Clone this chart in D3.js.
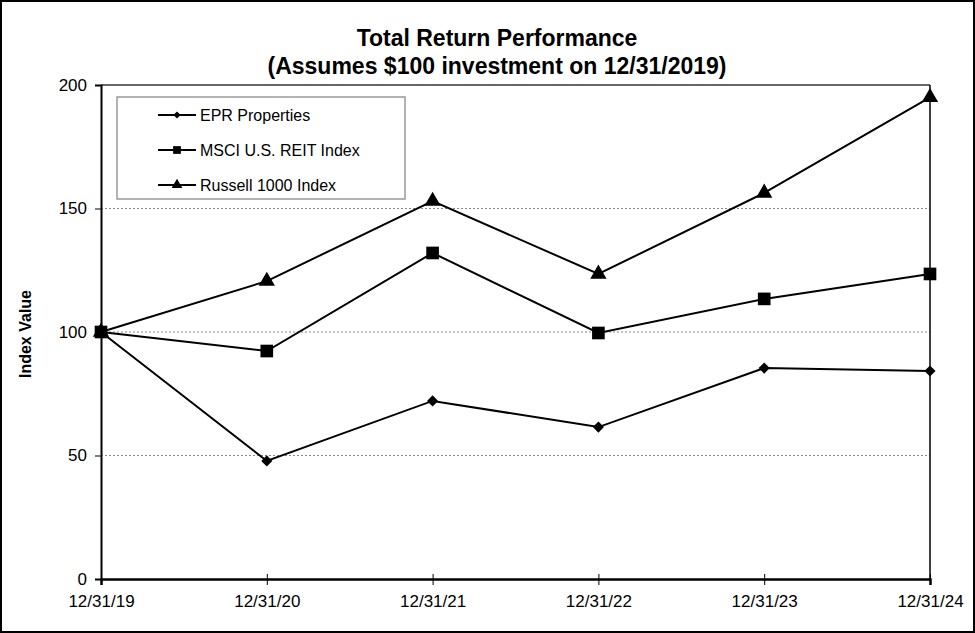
<!DOCTYPE html>
<html><head><meta charset="utf-8">
<script src="https://cdn.jsdelivr.net/npm/d3@7"></script>
<style>body{margin:0;background:#fff}svg{display:block;font-family:"Liberation Sans",Arial,sans-serif}</style>
</head><body><svg id="c" width="975" height="633"></svg>
<script>
const categories = ["12/31/19","12/31/20","12/31/21","12/31/22","12/31/23","12/31/24"];
const seriesNames = ["EPR Properties","MSCI U.S. REIT Index","Russell 1000 Index"];
const eprValues = [100, 47.8, 72.1, 61.5, 85.4, 84.2];
const msciValues = [100, 92.3, 132.0, 99.6, 113.4, 123.5];
const russellValues = [100, 120.6, 153.0, 123.5, 156.3, 195.0];
const yTicks = [0, 50, 100, 150, 200];

const svg = d3.select("#c");
const W = 975, H = 633;
const m = {l:101, r:45, t:85, b:54};
svg.append("rect").attr("x",1).attr("y",1).attr("width",W-2).attr("height",H-2).attr("fill","#fff").attr("stroke","#000").attr("stroke-width",2);

const x = d3.scalePoint().domain(categories).range([m.l, W-m.r]);
const y = d3.scaleLinear().domain([0,200]).range([H-m.b, m.t]);

// marker shapes
const diamond = (s)=> d3.symbol().type(d3.symbolSquare).size(s)();
const markers = [
  {d: diamond(62), rot:45},
  {d: d3.symbol().type(d3.symbolSquare).size(160)(), rot:0},
  {d: d3.symbol().type(d3.symbolTriangle).size(115)(), rot:0}
];
const legendMarkers = [
  {d: diamond(26), rot:45},
  {d: d3.symbol().type(d3.symbolSquare).size(60)(), rot:0},
  {d: d3.symbol().type(d3.symbolTriangle).size(50)(), rot:0}
];

// title
const t = svg.append("text").attr("text-anchor","middle").attr("font-weight","bold").attr("font-size",23);
t.append("tspan").attr("x",497).attr("y",46).text("Total Return Performance");
t.append("tspan").attr("x",497).attr("y",74).text("(Assumes $100 investment on 12/31/2019)");

// gridlines
svg.append("g").selectAll("line").data(yTicks.filter(d=>d>0&&d<200)).join("line")
  .attr("x1",m.l).attr("x2",W-m.r).attr("y1",d=>y(d)).attr("y2",d=>y(d))
  .attr("stroke","#888").attr("stroke-width",1).attr("stroke-dasharray","2,2");

// frame top & right
svg.append("line").attr("x1",m.l).attr("x2",W-m.r).attr("y1",y(200)).attr("y2",y(200)).attr("stroke","#333").attr("stroke-width",1.5);
svg.append("line").attr("x1",W-m.r).attr("x2",W-m.r).attr("y1",y(200)).attr("y2",y(0)).attr("stroke","#000").attr("stroke-width",1.5);

// y axis
const ya = svg.append("g").attr("transform",`translate(${m.l},0)`)
  .call(d3.axisLeft(y).tickValues(yTicks).tickSize(6).tickPadding(8));
ya.select(".domain").attr("stroke","#000").attr("stroke-width",2);
ya.selectAll("text").attr("font-size",17).attr("fill","#000").attr("font-family","Liberation Sans, Arial, sans-serif");

// x axis
const xa = svg.append("g").attr("transform",`translate(0,${y(0)})`)
  .call(d3.axisBottom(x).tickSize(6).tickPadding(10));
xa.select(".domain").attr("stroke","#000").attr("stroke-width",2.5);
xa.selectAll(".tick line").attr("y1",-5).attr("y2",6);
xa.selectAll("text").attr("font-size",17).attr("fill","#000").attr("font-family","Liberation Sans, Arial, sans-serif");

// y title
svg.append("text").attr("transform","translate(31,334) rotate(-90)").attr("text-anchor","middle")
  .attr("font-weight","bold").attr("font-size",16).text("Index Value");

// series
const allSeries = [eprValues, msciValues, russellValues];
const line = d3.line().x((d,i)=>x(categories[i])).y(d=>y(d));
allSeries.forEach((vals)=>{
  svg.append("path").datum(vals).attr("d",line).attr("fill","none").attr("stroke","#000").attr("stroke-width",2);
});
allSeries.forEach((vals,k)=>{
  svg.append("g").selectAll("path").data(vals).join("path")
    .attr("transform",(d,i)=>`translate(${x(categories[i])},${y(d)}) rotate(${markers[k].rot})`)
    .attr("d",markers[k].d).attr("fill","#000");
});

// legend
const lg = svg.append("g");
lg.append("rect").attr("x",117).attr("y",97).attr("width",288).attr("height",102).attr("fill","#fff").attr("stroke","#999").attr("stroke-width",1.5);
seriesNames.forEach((n,k)=>{
  const ly = 115 + k*35;
  lg.append("line").attr("x1",158).attr("x2",196).attr("y1",ly).attr("y2",ly).attr("stroke","#000").attr("stroke-width",2);
  lg.append("path").attr("transform",`translate(177,${ly}) rotate(${legendMarkers[k].rot})`).attr("d",legendMarkers[k].d).attr("fill","#000");
  lg.append("text").attr("x",200).attr("y",ly+6).attr("font-size",16).text(n);
});
</script></body></html>
